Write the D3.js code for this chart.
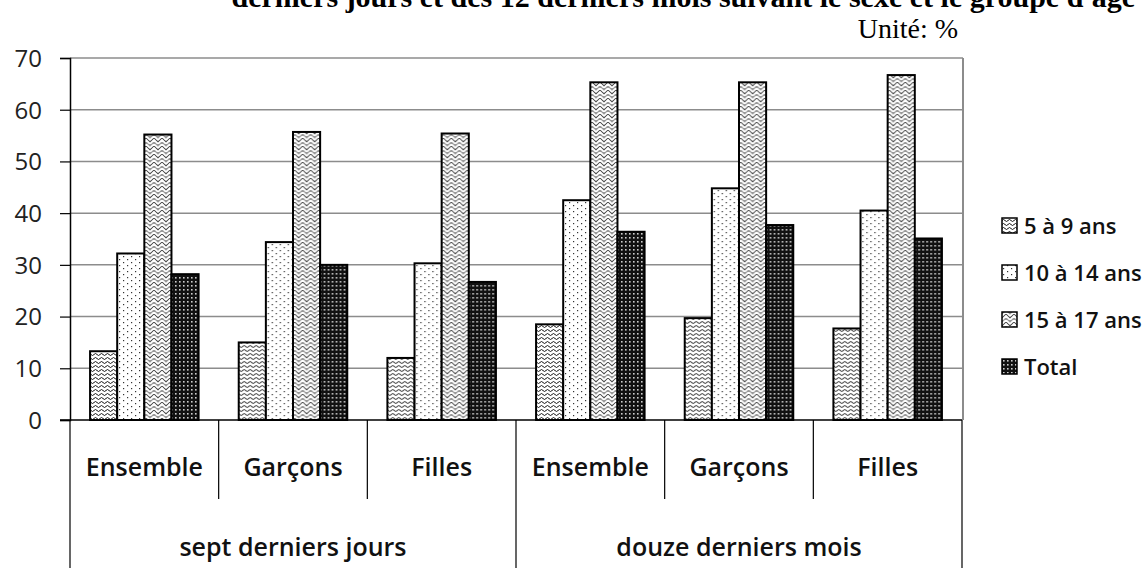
<!DOCTYPE html>
<html>
<head>
<meta charset="utf-8">
<script src="https://cdn.jsdelivr.net/npm/d3@7"></script>
<style>
  body { margin: 0; background: #fff; }
  svg { display: block; }
  .sans { font-family: "Open Sans", "Noto Sans", sans-serif; }
  .serif { font-family: "Liberation Serif", "Times New Roman", serif; }
</style>
</head>
<body>
<svg id="chart" width="1148" height="568"></svg>
<script>
// données
var groups = ["sept derniers jours", "douze derniers mois"];
var subCats = ["Ensemble", "Garçons", "Filles"];
var seriesNames = ["5 à 9 ans", "10 à 14 ans", "15 à 17 ans", "Total"];
var ans5_9   = [13.3, 15.0, 12.0, 18.5, 19.7, 17.7];
var ans10_14 = [32.2, 34.4, 30.3, 42.5, 44.8, 40.5];
var ans15_17 = [55.2, 55.7, 55.4, 65.3, 65.3, 66.7];
var total    = [28.2, 30.0, 26.7, 36.4, 37.7, 35.1];
var yTicks = [0, 10, 20, 30, 40, 50, 60, 70];

var seriesValues = [ans5_9, ans10_14, ans15_17, total];
var patternIds = ["p-wave", "p-dots", "p-zig", "p-dark"];

// catégories : groupe x sous-catégorie
var cats = [];
groups.forEach(function(g, gi) {
  subCats.forEach(function(s, si) { cats.push({ key: gi + "-" + si, group: g, gi: gi, label: s }); });
});

var svg = d3.select("#chart");

// motifs de remplissage
var defs = svg.append("defs");
var pw = defs.append("pattern").attr("id", "p-wave").attr("patternUnits", "userSpaceOnUse")
  .attr("width", 6).attr("height", 4);
pw.append("rect").attr("width", 6).attr("height", 4).attr("fill", "#fff");
pw.append("path").attr("d", "M0 2.5 Q1.5 0.5 3 2.5 T6 2.5").attr("fill", "none")
  .attr("stroke", "#000").attr("stroke-width", 0.9);

var pd = defs.append("pattern").attr("id", "p-dots").attr("patternUnits", "userSpaceOnUse")
  .attr("width", 8).attr("height", 6);
pd.append("rect").attr("width", 8).attr("height", 6).attr("fill", "#fff");
pd.append("rect").attr("x", 1).attr("y", 1).attr("width", 1.2).attr("height", 1.2).attr("fill", "#333");
pd.append("rect").attr("x", 5).attr("y", 4).attr("width", 1.2).attr("height", 1.2).attr("fill", "#333");

var pz = defs.append("pattern").attr("id", "p-zig").attr("patternUnits", "userSpaceOnUse")
  .attr("width", 8).attr("height", 8);
pz.append("rect").attr("width", 8).attr("height", 8).attr("fill", "#9a9a9a");
pz.append("path").attr("d", "M0 4 L4 0 L8 4 M0 8 L4 4 L8 8").attr("fill", "none")
  .attr("stroke", "#fff").attr("stroke-width", 1.6);
pz.append("path").attr("d", "M0 6 L4 2 L8 6").attr("fill", "none")
  .attr("stroke", "#444").attr("stroke-width", 0.8);

var pk = defs.append("pattern").attr("id", "p-dark").attr("patternUnits", "userSpaceOnUse")
  .attr("width", 4).attr("height", 4);
pk.append("rect").attr("width", 4).attr("height", 4).attr("fill", "#111");
pk.append("rect").attr("x", 1).attr("y", 1).attr("width", 1.6).attr("height", 1.6).attr("fill", "#ccc");

// échelles
var plotLeft = 70, plotRight = 962, plotTop = 58, plotBottom = 420;

var x = d3.scaleBand()
  .domain(cats.map(function(d) { return d.key; }))
  .range([plotLeft, plotRight])
  .padding(0);

var xSub = d3.scaleBand()
  .domain(seriesNames)
  .range([x.bandwidth() * 0.135, x.bandwidth() * 0.865])
  .padding(0);

var y = d3.scaleLinear().domain([0, 70]).range([plotBottom, plotTop]);

// titre (coupé en haut)
svg.append("text").attr("class", "serif")
  .attr("x", 1135).attr("y", 7)
  .attr("text-anchor", "end")
  .style("font-size", "30px").style("font-weight", "bold")
  .text("derniers jours et des 12 derniers mois suivant le sexe et le groupe d'âge");

svg.append("text").attr("class", "serif")
  .attr("x", 958).attr("y", 38)
  .attr("text-anchor", "end")
  .style("font-size", "28px")
  .text("Unité: %");

// grille
svg.append("g")
  .selectAll("line")
  .data(yTicks.filter(function(t) { return t > 0; }))
  .enter().append("line")
  .attr("x1", plotLeft).attr("x2", plotRight + 1)
  .attr("y1", function(d) { return y(d); })
  .attr("y2", function(d) { return y(d); })
  .attr("stroke", "#8c8c8c").attr("stroke-width", 1.5);

// bordure droite du cadre
svg.append("line")
  .attr("x1", plotRight + 1).attr("x2", plotRight + 1)
  .attr("y1", y(70)).attr("y2", y(0))
  .attr("stroke", "#8c8c8c").attr("stroke-width", 2);

// axe Y
var yAxis = svg.append("g")
  .attr("transform", "translate(" + plotLeft + ",0)")
  .call(d3.axisLeft(y).tickValues(yTicks).tickSize(10).tickPadding(18));
yAxis.select(".domain").attr("stroke", "#000").attr("stroke-width", 1.5);
yAxis.selectAll(".tick line").attr("stroke", "#000").attr("stroke-width", 1.2);
yAxis.selectAll("text").attr("class", "sans").attr("fill", "#222")
  .style("font-size", "24px").attr("dy", "0.35em");

// barres
var barGroups = svg.append("g")
  .selectAll("g")
  .data(cats)
  .enter().append("g")
  .attr("transform", function(d) { return "translate(" + x(d.key) + ",0)"; });

barGroups.selectAll("rect")
  .data(function(d, i) {
    return seriesNames.map(function(s, si) { return { serie: s, si: si, value: seriesValues[si][i] }; });
  })
  .enter().append("rect")
  .attr("x", function(d) { return xSub(d.serie); })
  .attr("y", function(d) { return y(d.value); })
  .attr("width", xSub.bandwidth())
  .attr("height", function(d) { return y(0) - y(d.value); })
  .attr("fill", function(d) { return "url(#" + patternIds[d.si] + ")"; })
  .attr("stroke", "#000").attr("stroke-width", 2);

// axe des catégories
svg.append("line")
  .attr("x1", plotLeft - 10).attr("x2", plotRight)
  .attr("y1", y(0)).attr("y2", y(0))
  .attr("stroke", "#000").attr("stroke-width", 1.5);

var sepKeys = cats.map(function(d) { return x(d.key); }).concat([plotRight]);
svg.append("g")
  .selectAll("line")
  .data(sepKeys)
  .enter().append("line")
  .attr("x1", function(d) { return d; })
  .attr("x2", function(d) { return d; })
  .attr("y1", y(0))
  .attr("y2", function(d, i) { return (i % 3 === 0) ? 568 : 499; })
  .attr("stroke", "#000").attr("stroke-width", 1.2);

svg.append("g")
  .selectAll("text")
  .data(cats)
  .enter().append("text")
  .attr("class", "sans")
  .attr("x", function(d) { return x(d.key) + x.bandwidth() / 2; })
  .attr("y", 476)
  .attr("text-anchor", "middle")
  .style("font-size", "25px").style("font-weight", "600")
  .attr("fill", "#111")
  .text(function(d) { return d.label; });

svg.append("g")
  .selectAll("text")
  .data(groups)
  .enter().append("text")
  .attr("class", "sans")
  .attr("x", function(d, gi) { return (x(gi + "-0") + x(gi + "-2") + x.bandwidth()) / 2; })
  .attr("y", 556)
  .attr("text-anchor", "middle")
  .style("font-size", "25px").style("font-weight", "600")
  .attr("fill", "#111")
  .text(function(d) { return d; });

// légende
var legend = svg.append("g").attr("transform", "translate(1002,226)");
var items = legend.selectAll("g")
  .data(seriesNames)
  .enter().append("g")
  .attr("transform", function(d, i) { return "translate(0," + (i * 47) + ")"; });
items.append("rect")
  .attr("x", 0).attr("y", -8).attr("width", 15).attr("height", 15)
  .attr("fill", function(d, i) { return "url(#" + patternIds[i] + ")"; })
  .attr("stroke", "#000").attr("stroke-width", 1.5);
items.append("text")
  .attr("class", "sans")
  .attr("x", 22).attr("y", 0).attr("dy", "0.35em")
  .style("font-size", "22px").style("font-weight", "600")
  .attr("fill", "#111")
  .text(function(d) { return d; });
</script>
</body>
</html>
